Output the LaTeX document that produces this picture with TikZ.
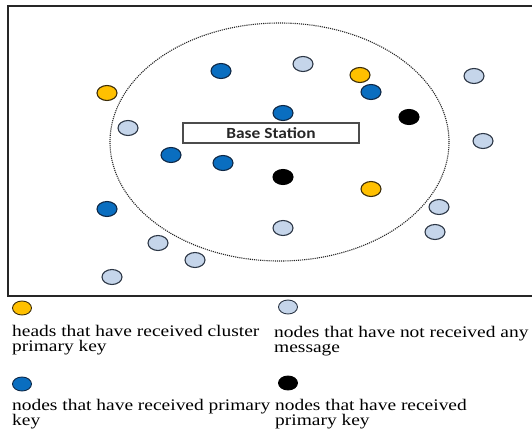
\documentclass[tikz,border=0pt]{standalone}
\usepackage{fontspec}
\setmainfont{Liberation Serif}
\newfontfamily\legendfont[FakeStretch=1.2]{Liberation Serif}
\newfontfamily\stationfont[FakeStretch=1.12]{Carlito}
\usetikzlibrary{shapes.geometric}

\definecolor{headyellow}{RGB}{255,192,0}
\definecolor{headedge}{RGB}{60,45,10}
\definecolor{keyblue}{RGB}{10,110,192}
\definecolor{keyedge}{RGB}{15,40,70}
\definecolor{idleblue}{RGB}{197,213,234}
\definecolor{idleedge}{RGB}{45,55,70}

\tikzset{
  sensor/.style={ellipse, minimum width=20pt, minimum height=15pt, inner sep=0pt, line width=1.1pt},
  headnode/.style={sensor, fill=headyellow, draw=headedge},
  keynode/.style={sensor, fill=keyblue, draw=keyedge},
  idlenode/.style={sensor, fill=idleblue, draw=idleedge},
  blacknode/.style={sensor, fill=black, draw=black},
  legendmark/.style={minimum width=19pt, minimum height=14pt, line width=0.9pt},
  legendtext/.style={anchor=base west, align=left, inner sep=0pt,
    font=\legendfont\fontsize{16.2}{17.3}\selectfont},
}

\begin{document}
\begin{tikzpicture}[x=1pt, y=-1pt]
    \useasboundingbox (0,0) rectangle (532,431);

    % Draw the frame and the range of the base station
    \draw[line width=1.2pt, black!85] (532,6) -| (8,296) -- (532,296);
    \draw[densely dotted, line width=1.1pt, black!85] (279.5,142) ellipse [x radius=169.5pt, y radius=119pt];

    % Base station
    \node[draw=black!70, line width=1.1pt, minimum width=176pt, minimum height=20pt, inner sep=0pt,
      font=\stationfont\bfseries\fontsize{15.5}{17}\selectfont, text=black!85] (bs) at (271,133) {Base Station};

    % Cluster heads
    \node[headnode] (ch1) at (107,93) {};
    \node[headnode] (ch2) at (360,75) {};
    \node[headnode] (ch3) at (371,189) {};

    % Nodes with primary key
    \node[keynode] (pk1) at (221,71) {};
    \node[keynode] (pk2) at (371,92) {};
    \node[keynode] (pk3) at (283,113) {};
    \node[keynode] (pk4) at (171,155) {};
    \node[keynode] (pk5) at (223,163) {};
    \node[keynode] (pk6) at (107,209) {};
    \node[blacknode] (bk1) at (409,117) {};
    \node[blacknode] (bk2) at (283,177) {};

    % Nodes without any message
    \node[idlenode] (nm1) at (303,64) {};
    \node[idlenode] (nm2) at (474,76) {};
    \node[idlenode] (nm3) at (128,128) {};
    \node[idlenode] (nm4) at (483,141) {};
    \node[idlenode] (nm5) at (439,207) {};
    \node[idlenode] (nm6) at (435,232) {};
    \node[idlenode] (nm7) at (283,228) {};
    \node[idlenode] (nm8) at (158,243) {};
    \node[idlenode] (nm9) at (195,260) {};
    \node[idlenode] (nm10) at (112,277) {};

    % Legend
    \node[headnode, legendmark] (lg1) at (22,308) {};
    \node[legendtext] (t1) at (12,351.3) {heads that have received cluster\\[-2.5pt]primary key};
    \node[idlenode, legendmark] (lg2) at (288,307) {};
    \node[legendtext] (t2) at (274,352) {nodes that have not received any\\[-2.5pt]message};
    \node[keynode, legendmark] (lg3) at (22,384) {};
    \node[legendtext] (t3) at (12,425.3) {nodes that have received primary\\[-2.5pt]key};
    \node[blacknode, legendmark] (lg4) at (288,383) {};
    \node[legendtext] (t4) at (275,425.3) {nodes that have received\\[-2.5pt]primary key};
\end{tikzpicture}
\end{document}
